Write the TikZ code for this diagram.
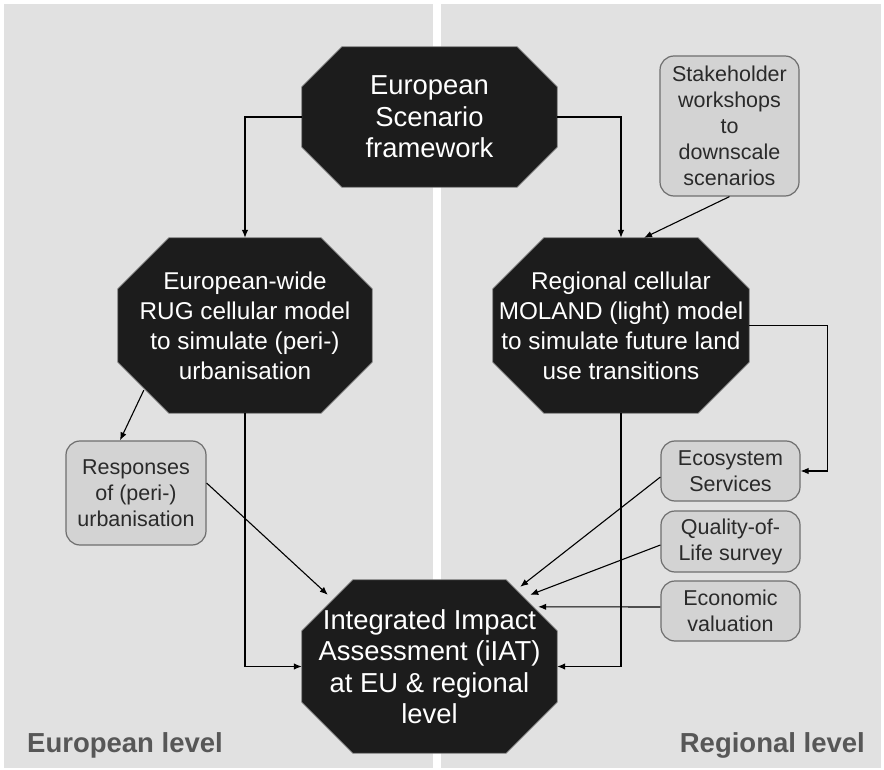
\documentclass[tikz,border=0pt]{standalone}
\usepackage{fontspec}
\setmainfont{Liberation Sans}
\usetikzlibrary{arrows.meta,calc,backgrounds}
\definecolor{panelgray}{HTML}{E1E1E1}
\definecolor{octfill}{HTML}{1C1C1C}
\definecolor{octline}{HTML}{7A7A7A}
\definecolor{boxfill}{HTML}{D3D3D3}
\definecolor{boxline}{HTML}{6E6E6E}
\definecolor{boxtext}{HTML}{2A2A2A}
\definecolor{leveltext}{HTML}{575757}
\begin{document}
\begin{tikzpicture}[x=1pt,y=-1pt,
  octo/.style={rectangle, inner sep=0pt, text=white, align=center},
  octobig/.style={octo, font=\fontsize{27.4}{31.5}\selectfont},
  octosmall/.style={octo, font=\fontsize{24.3}{30}\selectfont},
  infobox/.style={rectangle, rounded corners=14pt, inner sep=0pt, fill=boxfill,
    draw=boxline, line width=1.2pt, text=boxtext, align=center,
    font=\fontsize{21.5}{26}\selectfont},
  levellabel/.style={inner sep=0pt, text=leveltext, font=\fontsize{27.5}{30}\selectfont\bfseries},
  arr/.style={line width=1.1pt, draw=black, -{Latex[length=8pt,width=6.5pt]}},
  link/.style={line width=1.1pt, draw=black}]
\useasboundingbox (0,0) rectangle (884,770);

% octagonal process nodes
\node[octobig, minimum width=255, minimum height=140] (esf) at (429.5,117)
  {European\\Scenario\\framework};
\node[octosmall, minimum width=254, minimum height=175] (rug) at (245,325.5)
  {European-wide\\RUG cellular model\\to simulate (peri-)\\urbanisation};
\node[octosmall, minimum width=256, minimum height=175] (mol) at (621,325.5)
  {Regional cellular\\MOLAND (light) model\\to simulate future land\\use transitions};
\node[octobig, minimum width=255, minimum height=173] (iat) at (429.5,666.5)
  {Integrated Impact\\Assessment (iIAT)\\at EU \& regional\\level};

% rounded input boxes
\node[infobox, minimum width=139, minimum height=140] (stake) at (729.5,126)
  {Stakeholder\\workshops\\to\\downscale\\scenarios};
\node[infobox, minimum width=140, minimum height=104] (resp) at (136,493)
  {Responses\\of (peri-)\\urbanisation};
\node[infobox, minimum width=139, minimum height=60] (eco) at (730.5,471)
  {Ecosystem\\Services};
\node[infobox, minimum width=139, minimum height=61] (qol) at (730.5,541.5)
  {Quality-of-\\Life survey};
\node[infobox, minimum width=139, minimum height=60] (econ) at (730.5,611)
  {Economic\\valuation};

% level labels
\node[levellabel, anchor=base west] (eulevel) at (27,752) {European level};
\node[levellabel, anchor=base east] (reglevel) at (865,752) {Regional level};

% background panels and octagon shapes
\begin{scope}[on background layer]
  \fill[white] (0,0) rectangle (884,770);
  \fill[panelgray] (4,4) rectangle (433,768);
  \fill[panelgray] (441,4) rectangle (881,768);
  \foreach \n/\c in {esf/40, rug/51, mol/51, iat/51} {
    \filldraw[fill=octfill, draw=octline, line width=0.8pt]
      ($(\n.north west)+(\c,0)$) -- ($(\n.north east)+(-\c,0)$)
      -- ($(\n.north east)+(0,\c)$) -- ($(\n.south east)+(0,-\c)$)
      -- ($(\n.south east)+(-\c,0)$) -- ($(\n.south west)+(\c,0)$)
      -- ($(\n.south west)+(0,-\c)$) -- ($(\n.north west)+(0,\c)$) -- cycle;
  }
\end{scope}

% connectors
\draw[arr] (esf.west) -| (rug.north);
\draw[arr] (esf.east) -| (mol.north);
\draw[arr] (stake.south) -- ($(mol.north)+(23,0)$);
\draw[arr] ($(rug.south west)+(26,-23)$) -- ($(resp.north)+(-16,0)$);
\draw[arr] (rug.south) |- (iat.west);
\draw[arr] (mol.south) |- (iat.east);
\draw[arr] (mol.east) -- ++(78,0) |- (eco.east);
\draw[arr] ($(resp.east)+(0,-10)$) -- ($(iat.north west)+(26,15)$);
\draw[arr] ($(eco.west)+(0,6)$) -- ($(iat.north east)+(-37,7)$);
\draw[arr] ($(qol.west)+(0,3.5)$) -- ($(iat.north east)+(-27,15)$);
\draw[arr] ($(econ.west)+(0,-4)$) -- ($(iat.north east)+(-19,27)$);
\end{tikzpicture}
\end{document}
